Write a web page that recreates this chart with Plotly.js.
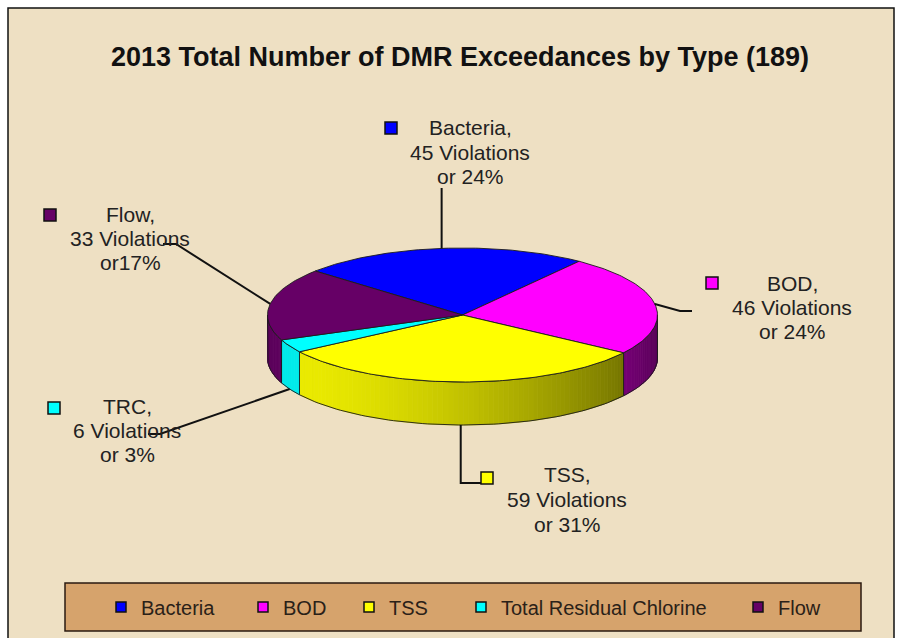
<!DOCTYPE html>
<html><head><meta charset="utf-8">
<script src="https://cdn.plot.ly/plotly-3.0.1.min.js"></script>
<style>html,body{margin:0;padding:0;background:#fff}#chart{width:899px;height:638px}</style>
</head><body><div id="chart"></div>
<script>
// ---- data ----
const categories = ['Bacteria', 'BOD', 'TSS', 'Total Residual Chlorine', 'Flow'];
const labelNames = ['Bacteria', 'BOD', 'TSS', 'TRC', 'Flow'];
const violations = [45, 46, 59, 6, 33];
const percentText = ['or 24%', 'or 24%', 'or 31%', 'or 3%', 'or17%'];
const totalViolations = 189;
const sliceColors = ['#0000FF', '#FF00FF', '#FFFF00', '#00FFFF', '#660066'];
const chartTitle = '2013 Total Number of DMR Exceedances by Type (189)';

// ---- layout config ----
const W = 899, H = 638;
const PIE = {cx: 462.5, cy: 315, rx: 195, ry: 67, depth: 43, startAngle: -49};
const FONT = 'Liberation Sans, Arial, sans-serif';
const LABELS = [
  {x: 470, y: [127, 152, 176], key: [391, 128], leader: [[null, 188]]},
  {x: 792, y: [283, 307, 331], key: [712, 283], leader: [[680, 311], [692, 311]]},
  {x: 567, y: [474, 499, 524], key: [487, 478], leader: [[null, 483], [481, 483]]},
  {x: 127, y: [406, 430, 454], key: [54, 408], leader: [[160, 434], [148, 434]]},
  {x: 130, y: [214, 238, 262], key: [50, 215], leader: [[176, 244], [163, 244]]}
];
const LEGEND_LEFT = [101, 243, 349, 461, 738];

function pt(theta, drop) {
  const r = theta * Math.PI / 180;
  return [PIE.cx + PIE.rx * Math.sin(r), PIE.cy - PIE.ry * Math.cos(r) + (drop || 0)];
}
function hexToRgb(h) { return [1, 3, 5].map(i => parseInt(h.substr(i, 2), 16)); }
function shade(hex, f) {
  const c = hexToRgb(hex).map(v => Math.round(Math.min(255, v * f)));
  return 'rgb(' + c.join(',') + ')';
}
function wallFactor(theta) { return 0.6 + 0.32 * Math.cos((theta - 240) * Math.PI / 180); }

// slice angles
const angles = [];
let acc = PIE.startAngle;
violations.forEach(v => { const span = v / totalViolations * 360; angles.push([acc, acc + span]); acc += span; });

const traces = [];
const EDGE = '#1c1c1c';

// side walls (front half only: 90..270)
angles.forEach(([a, b], i) => {
  const lo = Math.max(a, 90), hi = Math.min(b, 270);
  if (hi <= lo) return;
  const n = Math.max(2, Math.ceil((hi - lo) / 1.5));
  const step = (hi - lo) / n;
  for (let k = 0; k < n; k++) {
    const t1 = lo + k * step, t2 = lo + (k + 1) * step;
    const p = [pt(t1), pt(t2), pt(t2, PIE.depth), pt(t1, PIE.depth), pt(t1)];
    const col = shade(sliceColors[i], wallFactor((t1 + t2) / 2));
    traces.push({type: 'scatter', mode: 'lines', x: p.map(q => q[0]), y: p.map(q => q[1]),
      fill: 'toself', fillcolor: col, line: {color: col, width: 0.8}, hoverinfo: 'skip', showlegend: false});
  }
  const out = [];
  for (let k = 0; k <= n; k++) out.push(pt(lo + k * step));
  for (let k = n; k >= 0; k--) out.push(pt(lo + k * step, PIE.depth));
  out.push(pt(lo));
  traces.push({type: 'scatter', mode: 'lines', x: out.map(q => q[0]), y: out.map(q => q[1]),
    line: {color: EDGE, width: 0.9}, hoverinfo: 'skip', showlegend: false});
});

// top faces
angles.forEach(([a, b], i) => {
  const n = Math.max(3, Math.ceil((b - a) / 1));
  const p = [[PIE.cx, PIE.cy]];
  for (let k = 0; k <= n; k++) p.push(pt(a + (b - a) * k / n));
  p.push([PIE.cx, PIE.cy]);
  traces.push({type: 'scatter', mode: 'lines', x: p.map(q => q[0]), y: p.map(q => q[1]),
    fill: 'toself', fillcolor: sliceColors[i], line: {color: EDGE, width: 0.9},
    name: categories[i], text: violations[i] + ' Violations', hoverinfo: 'name+text', showlegend: false});
});

// leader lines
angles.forEach(([a, b], i) => {
  const mid = (a + b) / 2;
  const front = mid > 90 && mid < 270;
  const s = pt(mid, front ? PIE.depth : 0);
  const xs = [s[0]], ys = [s[1]];
  LABELS[i].leader.forEach(q => { xs.push(q[0] === null ? xs[xs.length - 1] : q[0]); ys.push(q[1]); });
  traces.push({type: 'scatter', mode: 'lines', x: xs, y: ys, line: {color: '#111', width: 2},
    hoverinfo: 'skip', showlegend: false});
});

// label keys
traces.push({type: 'scatter', mode: 'markers', x: LABELS.map(l => l.key[0]), y: LABELS.map(l => l.key[1]),
  marker: {symbol: 'square', size: 12, color: sliceColors, line: {color: '#111', width: 1.5}},
  hoverinfo: 'skip', showlegend: false});

// legend entries
const legendLayouts = {};
categories.forEach((c, i) => {
  const key = i === 0 ? 'legend' : 'legend' + (i + 1);
  traces.push({type: 'scatter', mode: 'markers', x: [null], y: [null], name: c, legend: key,
    marker: {symbol: 'square', size: 10, color: sliceColors[i], line: {color: '#111', width: 1.5}},
    showlegend: true});
  legendLayouts[key] = {x: LEGEND_LEFT[i] / W, y: 1 - 607 / H, xanchor: 'left', yanchor: 'middle',
    orientation: 'h', bgcolor: 'rgba(0,0,0,0)', borderwidth: 0, itemwidth: 30,
    font: {family: FONT, size: 20, color: '#2a2118'}};
});

// annotations (label text)
const annotations = [];
LABELS.forEach((l, i) => {
  const lines = [labelNames[i] + ',', violations[i] + ' Violations', percentText[i]];
  lines.forEach((t, k) => annotations.push({x: l.x, y: l.y[k], xref: 'x', yref: 'y', text: t,
    showarrow: false, xanchor: 'center', yanchor: 'middle', font: {family: FONT, size: 21, color: '#222'}}));
});

const layout = Object.assign({
  width: W, height: H, autosize: false,
  margin: {l: 0, r: 0, t: 0, b: 0, pad: 0},
  paper_bgcolor: '#ffffff', plot_bgcolor: 'rgba(0,0,0,0)',
  xaxis: {range: [0, W], visible: false, fixedrange: true},
  yaxis: {range: [H, 0], visible: false, fixedrange: true},
  title: {text: '<b>' + chartTitle + '</b>', font: {family: FONT, size: 27, color: '#111'},
    x: 460 / W, xanchor: 'center', y: 1 - 57 / H, yanchor: 'middle', xref: 'paper', yref: 'paper'},
  shapes: [
    {type: 'rect', xref: 'x', yref: 'y', x0: 8, x1: 894, y0: 8, y1: 660, layer: 'below',
      fillcolor: '#EEE0C3', line: {color: '#111', width: 1.5}},
    {type: 'rect', xref: 'x', yref: 'y', x0: 65, x1: 861, y0: 583, y1: 631, layer: 'below',
      fillcolor: '#D6A36C', line: {color: '#2a1a10', width: 1.5}}
  ],
  annotations: annotations,
  hovermode: 'closest'
}, legendLayouts);

Plotly.newPlot('chart', traces, layout, {displayModeBar: false, staticPlot: false});
</script>
</body></html>
